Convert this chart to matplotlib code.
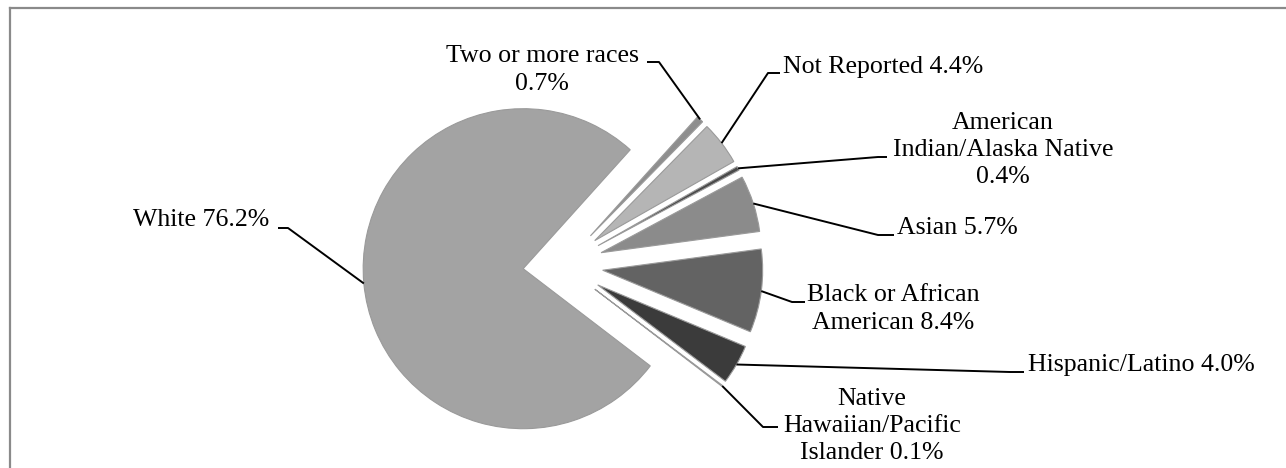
import matplotlib
matplotlib.use("Agg")
import matplotlib.pyplot as plt
import numpy as np
from matplotlib.lines import Line2D

# Data (order = counter-clockwise from the top edge of the big slice)
groups = ["White", "Native\nHawaiian/Pacific\nIslander", "Hispanic/Latino",
          "Black or African\nAmerican", "Asian", "American\nIndian/Alaska Native",
          "Not Reported", "Two or more races"]
shares = [76.2, 0.1, 4.0, 8.4, 5.7, 0.4, 4.4, 0.7]
greys = ["#a3a3a3", "#b2b2b2", "#3b3b3b", "#636363", "#8b8b8b", "#4a4a4a",
         "#b5b5b5", "#8e8e8e"]

# Layout (pixels from top-left of the 1286x468 canvas)
W, H = 1286, 468
CX, CY, R = 563, 265, 160
label_sep = [" ", " ", " ", " ", " ", "\n", " ", "\n"]
label_pos = [(269, 220), (872, 426), (1028, 365), (893, 309),
             (897, 228), (1003, 150), (783, 67), (542, 70)]
label_ha = ["right", "center", "left", "center", "left", "center", "left", "center"]
elbows = [[(288, 228), (278, 228)],
          [(763, 427), (778, 427)],
          [(1010, 372), (1024, 372)],
          [(792, 302), (805, 302)],
          [(878, 235), (894, 235)],
          [(878, 157), (887, 157)],
          [(768, 73), (780, 73)],
          [(659, 62), (647, 62)]]


def to_data(p):
    return ((p[0] - CX) / R, (CY - p[1]) / R)


fig = plt.figure(figsize=(W / 100, H / 100), dpi=100)
ax = fig.add_axes([0, 0, 1, 1])

wedges, _ = ax.pie(shares, colors=greys, explode=[0.25] * len(shares),
                   startangle=48, counterclock=True, radius=1,
                   wedgeprops=dict(edgecolor="#9a9a9a", linewidth=0.8))
ax.set_aspect("auto")
ax.set_xlim(-CX / R, (W - CX) / R)
ax.set_ylim((CY - H) / R, CY / R)
ax.axis("off")

font = dict(family=["Liberation Serif", "DejaVu Serif"], size=18.6, color="black")

for i, w in enumerate(wedges):
    mid = np.deg2rad((w.theta1 + w.theta2) / 2)
    cx, cy = w.center
    start = (cx + np.cos(mid) * w.r, cy + np.sin(mid) * w.r)
    pts = [start] + [to_data(p) for p in elbows[i]]
    xs, ys = zip(*pts)
    ax.plot(xs, ys, color="black", lw=1.4, solid_capstyle="butt")
    txt = groups[i] + label_sep[i] + f"{shares[i]:.1f}%"
    tx, ty = to_data(label_pos[i])
    ax.text(tx, ty, txt, ha=label_ha[i], va="center", linespacing=1.32, **font)

# chart frame (only top and left edges visible)
fig.add_artist(Line2D([10 / W, 1], [1 - 8 / H, 1 - 8 / H], color="#8a8a8a", lw=1.6,
                      transform=fig.transFigure))
fig.add_artist(Line2D([10 / W, 10 / W], [0, 1 - 8 / H], color="#8a8a8a", lw=1.6,
                      transform=fig.transFigure))

fig.savefig("out.png", dpi=100, facecolor="white")
